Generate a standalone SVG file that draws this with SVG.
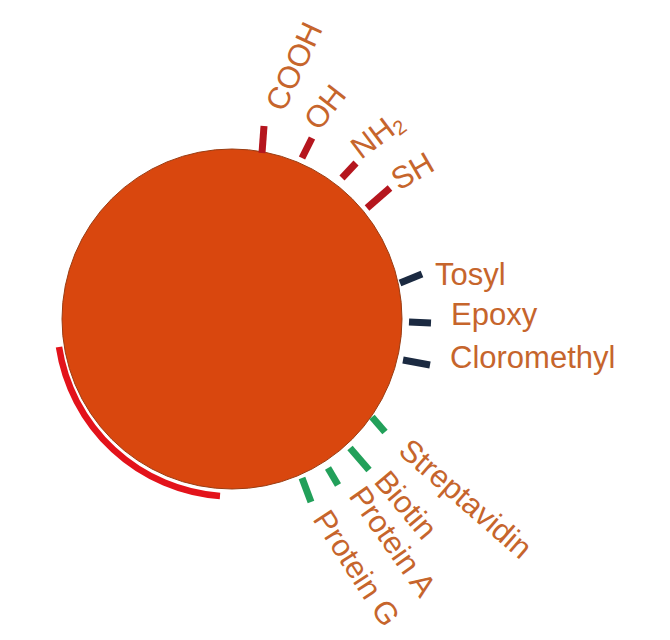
<svg xmlns="http://www.w3.org/2000/svg" width="670" height="640" viewBox="0 0 670 640">
<style>
.lbl{font-family:"Liberation Sans",Arial,sans-serif;font-size:31px;fill:#C6652C}
.red{stroke:#B5161E;stroke-width:7;fill:none}
.navy{stroke:#1B2A41;stroke-width:7;fill:none}
.green{stroke:#22A05A;stroke-width:7;fill:none}
</style>
<rect width="670" height="640" fill="#ffffff"/>
<g id="bead">
<circle cx="232" cy="319" r="170" fill="#D9470E" stroke="#9A3C12" stroke-width="1"/>
</g>
<g id="coating">
<path d="M59,347 A176,176 0 0 0 220,496" stroke="#E3131B" stroke-width="6.5" fill="none"/>
</g>
<g id="connectors">
<line class="red" x1="262" y1="153" x2="264" y2="126"/>
<line class="red" x1="302" y1="158" x2="312" y2="138"/>
<line class="red" x1="342" y1="178" x2="356" y2="163"/>
<line class="red" x1="367" y1="208" x2="390" y2="188"/>
<line class="navy" x1="400" y1="283" x2="422" y2="274"/>
<line class="navy" x1="409" y1="322" x2="431" y2="323"/>
<line class="navy" x1="403" y1="360" x2="430" y2="365"/>
<line class="green" x1="372" y1="417" x2="385" y2="432"/>
<line class="green" x1="350" y1="448" x2="369" y2="470"/>
<line class="green" x1="328" y1="468" x2="338" y2="485"/>
<line class="green" x1="302" y1="478" x2="311" y2="502"/>
</g>
<g id="label-cooh"><text class="lbl" transform="translate(284,113) rotate(-65)">COOH</text></g>
<g id="label-oh"><text class="lbl" transform="translate(319,132) rotate(-52)">OH</text></g>
<g id="label-nh2"><text class="lbl" transform="translate(361,160) rotate(-37)">NH<tspan font-size="20" dy="4">2</tspan></text></g>
<g id="label-sh"><text class="lbl" transform="translate(399,191) rotate(-30)">SH</text></g>
<g id="label-tosyl"><text class="lbl" x="435" y="285">Tosyl</text></g>
<g id="label-epoxy"><text class="lbl" x="451" y="325">Epoxy</text></g>
<g id="label-cloromethyl"><text class="lbl" x="450" y="368">Cloromethyl</text></g>
<g id="label-streptavidin"><text class="lbl" transform="translate(397,453) rotate(41)">Streptavidin</text></g>
<g id="label-biotin"><text class="lbl" transform="translate(373,482) rotate(50)">Biotin</text></g>
<g id="label-proteina"><text class="lbl" transform="translate(348,496) rotate(55)">Protein A</text></g>
<g id="label-proteing"><text class="lbl" transform="translate(312,519) rotate(57)">Protein G</text></g>
</svg>
